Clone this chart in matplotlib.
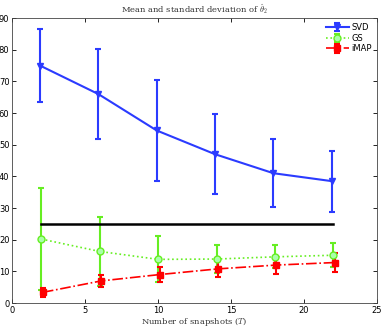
import numpy as np
import matplotlib.pyplot as plt

# snapshots T
T = np.array([2, 6, 10, 14, 18, 22])

svd_mean = [75, 66, 54.5, 47, 41, 38.5]
svd_std = [11.5, 14.2, 16, 12.7, 10.7, 9.6]
gs_mean = [20.2, 16.3, 13.8, 13.9, 14.6, 15.1]
gs_std = [16, 10.8, 7.3, 4.3, 3.6, 3.8]
imap_mean = [3.4, 7.0, 9.0, 10.8, 12.0, 12.8]
imap_std = [1.4, 2.0, 2.3, 2.6, 2.8, 3.0]
true_val = 25

plt.rcParams['mathtext.fontset'] = 'cm'
fig = plt.figure(figsize=(3.82, 3.28), dpi=100)
ax = fig.add_axes([0.032, 0.076, 0.955, 0.869])

ax.errorbar(T - 0.1, svd_mean, yerr=svd_std, color='#2b3bff', lw=1.5,
            marker='v', ms=5, capsize=2.5, capthick=1.5, elinewidth=1.5,
            label='SVD')
ax.errorbar(T, gs_mean, yerr=gs_std, color='#66ee22', lw=1.2, ls=':',
            marker='o', ms=5, mfc='#aaffaa', mec='#66ee22', capsize=2.5,
            capthick=1.5, elinewidth=1.5, label='GS')
ax.errorbar(T + 0.1, imap_mean, yerr=imap_std, color='#ff0000', lw=1.2,
            ls='-.', marker='s', ms=4.5, capsize=2.5, capthick=1.5,
            elinewidth=1.5, label='iMAP')
ax.plot([T[0], T[-1]], [true_val, true_val], color='black', lw=1.8)

ax.set_xlim(0, 25)
ax.set_ylim(0, 90)
ax.set_xticks(range(0, 26, 5))
ax.set_yticks(range(0, 91, 10))
ax.tick_params(direction='in', top=True, right=True, labelsize=6, length=3,
               pad=2, width=0.6)
for s in ax.spines.values():
    s.set_linewidth(0.6)
    s.set_color('#444444')

ax.set_title(r'Mean and standard deviation of $\hat{\theta}_2$',
             family='serif', fontsize=6, pad=4, color='#333333')
ax.set_xlabel(r'Number of snapshots ($T$)', family='serif', fontsize=6,
              labelpad=1, color='#333333')
ax.legend(loc='upper right', frameon=False, fontsize=6, handlelength=2.8,
          borderaxespad=0.2, labelspacing=0.2, handletextpad=0.3)

fig.savefig('out.png', dpi=100)
